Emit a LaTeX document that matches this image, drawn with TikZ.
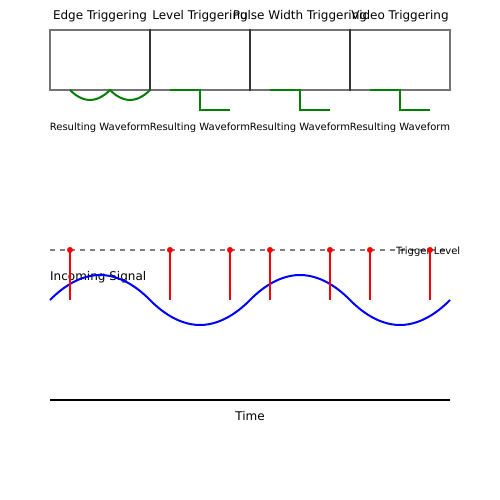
\documentclass[tikz,border=0pt]{standalone}
\usepackage{fontspec}
\setmainfont{DejaVu Sans}
\usetikzlibrary{positioning}
\definecolor{wavegreen}{RGB}{0,128,0}
\definecolor{sigblue}{RGB}{0,0,255}
\definecolor{trigred}{RGB}{255,0,0}

\begin{document}
\begin{tikzpicture}[x=1pt,y=-1pt]
  \useasboundingbox (0,0) rectangle (500,500);
  % trigger modes
  \foreach \i/\n/\t in {0/edge/Edge Triggering,1/level/Level Triggering,2/pulse/Pulse Width Triggering,3/video/Video Triggering} {
    \node[draw=black,draw opacity=0.55,line width=1.3pt,minimum width=100pt,minimum height=60pt,inner sep=0pt] (\n) at (100+100*\i,60) {};
    \node[anchor=base,font=\fontsize{12}{14}\selectfont] (\n-title) at (100+100*\i,20) {\t};
    \node[anchor=base,font=\fontsize{10}{12}\selectfont] (\n-wave) at (100+100*\i,130) {Resulting Waveform};
  }
  \draw[wavegreen,line width=2pt] (70,90) parabola bend (90,100) (110,90) parabola bend (130,100) (150,90);
  \foreach \x in {170,270,370}
    \draw[wavegreen,line width=2pt] (\x,90) -- ++(30,0) -- ++(0,20) -- ++(30,0);
  % signal and trigger level
  \draw[gray,line width=1.5pt,dash pattern=on 5pt off 5pt] (50,250) -- (450,250);
  \node[anchor=base west,inner sep=0pt,font=\fontsize{10}{12}\selectfont] (trig) at (396,254) {Trigger Level};
  \node[anchor=base west,inner sep=0pt,font=\fontsize{12}{14}\selectfont] (sig) at (50,280) {Incoming Signal};
  \draw[sigblue,line width=2pt] (50,300) parabola bend (100,275) (150,300) parabola bend (200,325) (250,300)
    parabola bend (300,275) (350,300) parabola bend (400,325) (450,300);
  \foreach \x in {70,170,230,270,330,370,430}
    {\draw[trigred,line width=2pt] (\x,250) -- (\x,300); \fill[trigred] (\x,250) circle (3pt);}
  % time axis
  \draw[black,line width=2pt] (50,400) -- (450,400);
  \node[anchor=base,font=\fontsize{12}{14}\selectfont] (time) at (250,420) {Time};
\end{tikzpicture}
\end{document}
